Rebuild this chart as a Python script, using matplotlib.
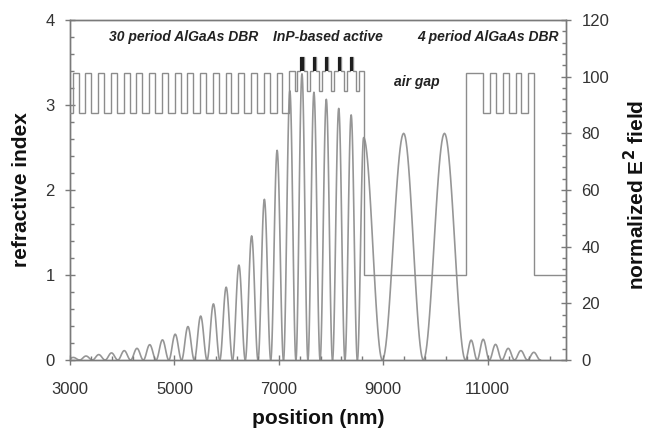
import numpy as np
import matplotlib
matplotlib.use("Agg")
import matplotlib.pyplot as plt

plt.rcParams['font.family'] = ['Liberation Sans', 'DejaVu Sans']

# normalized |E|^2 standing wave: node positions, antinode positions, peak heights
field_nodes = [2941, 3185, 3429, 3673, 3917, 4161, 4405, 4649, 4893, 5137,
               5381, 5625, 5869, 6113, 6357, 6601, 6845, 7089, 7327, 7557,
               7790, 8028, 8266, 8504, 8982, 9768, 10574, 10798, 11032, 11271,
               11514, 11760, 12008]
field_peak_pos = [3063, 3307, 3551, 3795, 4039, 4283, 4527, 4771, 5015, 5259,
                  5503, 5747, 5991, 6235, 6479, 6723, 6967, 7211, 7443, 7672,
                  7909, 8147, 8385, 8624, 9391, 10172, 10683, 10914, 11150, 11393,
                  11635, 11884]
field_peak_val = [0.9, 1.4, 1.9, 2.5, 3.3, 4.1, 5.4, 7.1, 9.1, 11.8,
                  15.5, 19.8, 25.7, 33.5, 43.8, 56.7, 74, 95, 101, 94.5,
                  92, 88.8, 86.5, 78.5, 80, 80, 7, 7.3, 5.5, 4.1,
                  3.3, 2.7]

# layer stack (thickness nm, refractive index)
n_gaas, n_alas = 3.38, 2.90
d_gaas, d_alas = 113, 131
n_inp, n_bar, n_qw = 3.17, 3.40, 3.56
n_air = 1.0
stack_start = -120

bottom_dbr = [(d_gaas, n_gaas), (d_alas, n_alas)] * 30
active = ([(100, n_bar), (53, n_inp)]
          + [(60, n_bar), (60, n_qw), (60, n_bar), (57, n_inp)] * 5
          + [(86, n_bar)])
air_gap = [(1970, n_air)]
top_dbr = [(320, n_gaas)] + [(d_alas, n_alas), (d_gaas, n_gaas)] * 4
exit_air = [(610, n_air)]
layers = bottom_dbr + active + air_gap + top_dbr + exit_air

labels = ["30 period AlGaAs DBR", "InP-based active", "4 period AlGaAs DBR", "air gap"]
label_x = [5167, 7938, 11000, 9648]
label_y = [3.80, 3.80, 3.80, 3.27]

thick = np.array([d for d, n in layers], dtype=float)
index = np.array([n for d, n in layers])
edges = stack_start + np.concatenate([[0], np.cumsum(thick)])

fig = plt.figure(figsize=(6.57, 4.34), dpi=100)
ax = fig.add_axes([70 / 657, 1 - 360 / 434, 496 / 657, 340 / 434])
ax2 = ax.twinx()

ax.stairs(index, edges, baseline=None, color='#8c8c8c', lw=1.0, zorder=3)
# quantum wells drawn as solid dark bars
for x0, d, n in zip(edges[:-1], thick, index):
    if n == n_qw:
        ax.bar(x0, n_qw - n_bar, width=d, bottom=n_bar, align='edge',
               color='#1e1e1e', lw=0, zorder=4)

# field lobes between nodes
for z0, p, z1, a in zip(field_nodes[:-1], field_peak_pos, field_nodes[1:], field_peak_val):
    xr = np.linspace(z0, p, 25)
    xf = np.linspace(p, z1, 25)
    yr = a * np.sin(0.5 * np.pi * (xr - z0) / (p - z0)) ** 2
    yf = a * np.cos(0.5 * np.pi * (xf - p) / (z1 - p)) ** 2
    ax2.plot(np.concatenate([xr, xf]), np.concatenate([yr, yf]),
             color='#969696', lw=1.2, zorder=2)

for t, x, y in zip(labels, label_x, label_y):
    ax.text(x, y, t, ha='center', va='center', fontsize=10, style='italic',
            fontweight='bold', color='#222222')

ax.set_xlim(3000, 12500)
ax.set_ylim(0, 4)
ax2.set_ylim(0, 120)
ax.set_xticks([3000, 5000, 7000, 9000, 11000])
ax.set_xticks(np.arange(3000, 12500, 400), minor=True)
ax.set_yticks([0, 1, 2, 3, 4])
ax.set_yticks(np.arange(0, 4.01, 0.2), minor=True)
ax2.set_yticks(np.arange(0, 121, 20))
ax2.set_yticks(np.arange(0, 121, 4), minor=True)

spine_c = '#7a7a7a'
for a in (ax, ax2):
    for s in a.spines.values():
        s.set_color(spine_c)
        s.set_linewidth(1.0)
    a.tick_params(which='major', direction='inout', length=7, width=1,
                  color=spine_c, labelsize=12, labelcolor='#333333')
    a.tick_params(which='minor', direction='in', length=3, width=1, color=spine_c)
ax.tick_params(axis='x', which='major', pad=12)
ax.tick_params(axis='y', which='major', pad=7.5)
ax2.tick_params(axis='y', which='major', pad=7.5)
ax.patch.set_visible(False)
ax.set_zorder(ax2.get_zorder() + 1)

ax.set_xlabel('position (nm)', fontsize=15, fontweight='bold', color='#111111', va='center')
ax.xaxis.set_label_coords((318 - 70) / 496, (360 - 418) / 340)
ax.set_ylabel('refractive index', fontsize=15, fontweight='bold', color='#111111', va='center')
ax.yaxis.set_label_coords((22 - 70) / 496, 0.5)
ax2.set_ylabel('normalized E$^{\\mathbf{2}}$ field', fontsize=15, fontweight='bold',
               color='#111111', va='center')
ax2.yaxis.set_label_coords((636 - 70) / 496, (360 - 195) / 340)

fig.savefig('out.png', dpi=100)
